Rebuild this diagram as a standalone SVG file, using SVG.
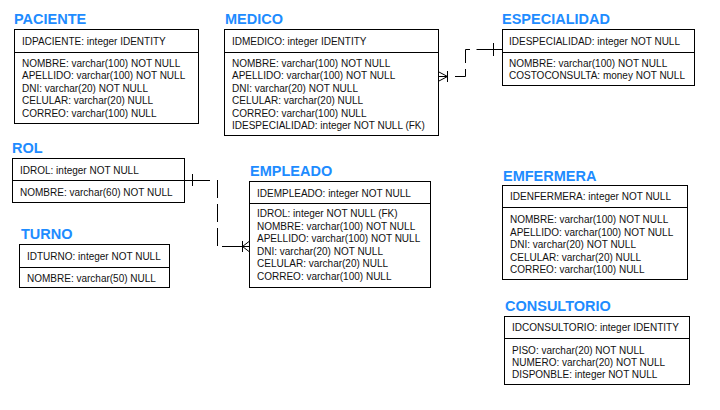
<svg xmlns="http://www.w3.org/2000/svg" width="720" height="410" viewBox="0 0 720 410">
<style>
.t{font-family:"Liberation Sans",Arial,sans-serif;font-weight:bold;font-size:14.5px;fill:#1e8cff}
.f{font-family:"Liberation Sans",Arial,sans-serif;font-size:10px;fill:#111}
.b{fill:#fff;stroke:#000;stroke-width:1}
.s{stroke:#000;stroke-width:1;fill:none}
.d{stroke:#000;stroke-width:1;fill:none;stroke-dasharray:18 6}
</style>
<rect width="720" height="410" fill="#fff"/>
<g id="connectors">
<g id="medico-especialidad">
<path class="s" d="M476.5,49.5H502M493.5,43V56"/>
<path class="d" d="M470,49.5H465.5V76.5H455"/>
<path class="s" d="M438,76.5H447.5M447.5,71V82M438,71.5L447.5,76.5L438,81.5"/>
</g>
<g id="rol-empleado">
<path class="s" d="M184,180.5H210M192.5,174V186"/>
<path class="d" d="M217.5,180V246"/>
<path class="s" d="M222,246.5H249M242.5,241V252M249,241.5L242.5,246.5L249,251.5"/>
</g>
</g>
<g id="paciente">
<text class="t" x="14" y="24">PACIENTE</text>
<rect class="b" x="14.5" y="29.5" width="184" height="94"/>
<path class="s" d="M14.5,52.5H198.5"/>
<text class="f" x="22" y="45">IDPACIENTE: integer IDENTITY</text>
<text class="f" x="22" y="66.5">NOMBRE: varchar(100) NOT NULL</text>
<text class="f" x="22" y="79">APELLIDO: varchar(100) NOT NULL</text>
<text class="f" x="22" y="91.5">DNI: varchar(20) NOT NULL</text>
<text class="f" x="22" y="104">CELULAR: varchar(20) NULL</text>
<text class="f" x="22" y="116.5">CORREO: varchar(100) NULL</text>
</g>
<g id="medico">
<text class="t" x="225" y="24">MEDICO</text>
<rect class="b" x="224.5" y="29.5" width="214" height="106"/>
<path class="s" d="M224.5,52.5H438.5"/>
<text class="f" x="232" y="45">IDMEDICO: integer IDENTITY</text>
<text class="f" x="232" y="66.5">NOMBRE: varchar(100) NOT NULL</text>
<text class="f" x="232" y="79">APELLIDO: varchar(100) NOT NULL</text>
<text class="f" x="232" y="91.5">DNI: varchar(20) NOT NULL</text>
<text class="f" x="232" y="104">CELULAR: varchar(20) NULL</text>
<text class="f" x="232" y="116.5">CORREO: varchar(100) NULL</text>
<text class="f" x="232" y="129">IDESPECIALIDAD: integer NOT NULL (FK)</text>
</g>
<g id="especialidad">
<text class="t" x="502" y="24">ESPECIALIDAD</text>
<rect class="b" x="502.5" y="29.5" width="192" height="56"/>
<path class="s" d="M502.5,52.5H694.5"/>
<text class="f" x="509" y="45">IDESPECIALIDAD: integer NOT NULL</text>
<text class="f" x="509" y="66.5">NOMBRE: varchar(100) NOT NULL</text>
<text class="f" x="509" y="79">COSTOCONSULTA: money NOT NULL</text>
</g>
<g id="rol">
<text class="t" x="12" y="153">ROL</text>
<rect class="b" x="12.5" y="158.5" width="172" height="44"/>
<path class="s" d="M12.5,180.5H184.5"/>
<text class="f" x="20" y="174">IDROL: integer NOT NULL</text>
<text class="f" x="20" y="195.5">NOMBRE: varchar(60) NOT NULL</text>
</g>
<g id="turno">
<text class="t" x="21" y="239">TURNO</text>
<rect class="b" x="19.5" y="244.5" width="150" height="43"/>
<path class="s" d="M19.5,267.5H169.5"/>
<text class="f" x="27" y="260">IDTURNO: integer NOT NULL</text>
<text class="f" x="27" y="281.5">NOMBRE: varchar(50) NULL</text>
</g>
<g id="empleado">
<text class="t" x="250" y="176">EMPLEADO</text>
<rect class="b" x="249.5" y="181.5" width="181" height="106"/>
<path class="s" d="M249.5,203.5H430.5"/>
<text class="f" x="257" y="197">IDEMPLEADO: integer NOT NULL</text>
<text class="f" x="257" y="217">IDROL: integer NOT NULL (FK)</text>
<text class="f" x="257" y="229.5">NOMBRE: varchar(100) NOT NULL</text>
<text class="f" x="257" y="242">APELLIDO: varchar(100) NOT NULL</text>
<text class="f" x="257" y="254.5">DNI: varchar(20) NOT NULL</text>
<text class="f" x="257" y="267">CELULAR: varchar(20) NULL</text>
<text class="f" x="257" y="279.5">CORREO: varchar(100) NULL</text>
</g>
<g id="emfermera">
<text class="t" x="503" y="181">EMFERMERA</text>
<rect class="b" x="502.5" y="185.5" width="185" height="94"/>
<path class="s" d="M502.5,207.5H687.5"/>
<text class="f" x="510" y="200">IDENFERMERA: integer NOT NULL</text>
<text class="f" x="510" y="223">NOMBRE: varchar(100) NOT NULL</text>
<text class="f" x="510" y="235.5">APELLIDO: varchar(100) NOT NULL</text>
<text class="f" x="510" y="248">DNI: varchar(20) NOT NULL</text>
<text class="f" x="510" y="260.5">CELULAR: varchar(20) NULL</text>
<text class="f" x="510" y="273">CORREO: varchar(100) NULL</text>
</g>
<g id="consultorio">
<text class="t" x="505" y="311">CONSULTORIO</text>
<rect class="b" x="504.5" y="316.5" width="185" height="68"/>
<path class="s" d="M504.5,338.5H689.5"/>
<text class="f" x="512" y="331">IDCONSULTORIO: integer IDENTITY</text>
<text class="f" x="512" y="354">PISO: varchar(20) NOT NULL</text>
<text class="f" x="512" y="366">NUMERO: varchar(20) NOT NULL</text>
<text class="f" x="512" y="378">DISPONBLE: integer NOT NULL</text>
</g>
</svg>
